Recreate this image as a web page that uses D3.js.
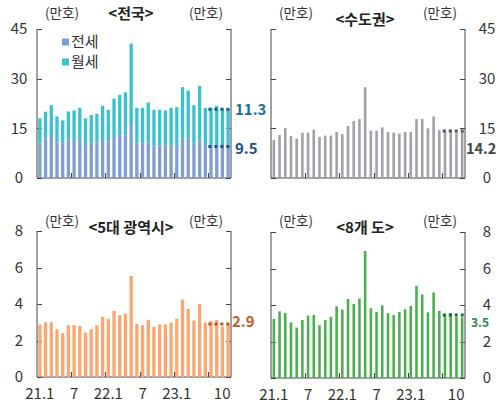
<!DOCTYPE html>
<html>
<head>
<meta charset="utf-8">
<style>
body { margin: 0; background: #fff; }
svg { display: block; font-family: "Noto Sans CJK KR", "Noto Sans", sans-serif; }
.frame { fill: none; stroke: #444; stroke-width: 1px; }
</style>
</head>
<body>
<svg width="499" height="405"></svg>
<script src="https://cdn.jsdelivr.net/npm/d3@7"></script>
<script>
// months 21.1 ~ 23.10
var months = [];
[21, 22, 23].forEach(function(y){
  for (var m = 1; m <= 12; m++) {
    if (y == 23 && m > 10) break;
    months.push(y + "." + m);
  }
});
var xLabels = {"21.1": "21.1", "21.7": "7", "22.1": "22.1", "22.7": "7", "23.1": "23.1", "23.10": "10"};
var xTicks = ["21.1", "21.7", "22.1", "22.7", "23.1", "23.7"];

// 전국 (만호)
var jeonse = [10.5, 11.7, 12.7, 10.7, 10.5, 11.7, 11.5, 11.7, 9.9, 10.5, 10.7, 11.5,
              11.1, 12.3, 12.9, 12.9, 16.3, 10.5, 10.5, 10.7, 9.5, 9.9, 9.9, 9.9,
              9.9, 12.0, 12.0, 10.3, 11.7, 9.9, 9.5, 9.9, 9.3, 9.3];
var wolse = [7.5, 8.3, 9.3, 7.9, 6.9, 8.4, 8.9, 9.5, 8.1, 8.5, 8.7, 10.3,
             9.5, 11.7, 12.2, 13.0, 24.3, 10.7, 10.7, 12.1, 11.1, 10.7, 10.5, 11.3,
             11.5, 15.4, 14.4, 11.7, 16.1, 11.3, 11.7, 11.9, 11.7, 11.5];
// 수도권
var capital = [11.5, 13.0, 15.1, 12.7, 11.9, 13.7, 13.7, 14.6, 12.4, 12.8, 12.8, 13.9,
               13.2, 15.7, 17.2, 17.8, 27.4, 14.3, 14.3, 15.3, 13.9, 13.7, 13.4, 13.9,
               13.9, 17.8, 17.8, 15.0, 18.6, 14.4, 14.3, 14.6, 13.7, 13.9];
// 5대 광역시
var metro = [2.88, 3.0, 3.0, 2.62, 2.4, 2.84, 2.84, 2.8, 2.44, 2.62, 2.84, 3.3,
             3.19, 3.62, 3.39, 3.46, 5.54, 2.91, 2.84, 3.13, 2.75, 2.88, 2.88, 2.99,
             3.19, 4.24, 3.73, 3.1, 4.0, 2.99, 3.06, 3.13, 2.77, 2.9];
// 8개 도
var province = [3.24, 3.65, 3.56, 3.05, 2.76, 3.18, 3.42, 3.45, 2.89, 3.18, 3.35, 3.93,
                3.75, 4.33, 4.05, 4.35, 6.96, 3.82, 3.62, 3.98, 3.55, 3.45, 3.62, 3.76,
                3.95, 5.04, 4.58, 3.6, 4.69, 3.67, 3.5, 3.56, 3.35, 3.33];

var svg = d3.select("svg");

var panels = [
  {title: "<전국>", x0: 37, x1: 231, y0: 29, y1: 178, max: 45, ticks: [0, 15, 30, 45], side: "left", pad: 0.42, xAxis: false, ty: -15, uy: -16},
  {title: "<수도권>", x0: 271, x1: 465, y0: 29, y1: 178, max: 45, ticks: [0, 15, 30, 45], side: "right", pad: 0.55, xAxis: false, ty: -9, uy: -16},
  {title: "<5대 광역시>", x0: 37, x1: 231, y0: 231, y1: 377, max: 8, ticks: [0, 2, 4, 6, 8], side: "left", pad: 0.42, xAxis: true, ty: -3, uy: -10},
  {title: "<8개 도>", x0: 271, x1: 465, y0: 232, y1: 378, max: 8, ticks: [0, 2, 4, 6, 8], side: "right", pad: 0.55, xAxis: true, ty: -4, uy: -11}
];

function drawFrame(p) {
  var g = svg.append("g");
  p.x = d3.scaleBand().domain(months).range([p.x0, p.x1]).paddingInner(p.pad).paddingOuter(p.pad / 2);
  p.y = d3.scaleLinear().domain([0, p.max]).range([p.y1, p.y0]);
  p.g = g;

  // frame lines
  g.append("path").attr("class", "frame")
    .attr("d", "M" + p.x0 + "," + p.y0 + "V" + p.y1 + "H" + p.x1 + "V" + p.y0);

  // inward ticks on both vertical axes
  p.ticks.forEach(function(t){
    var yy = Math.round(p.y(t)) + 0.5;
    g.append("line").attr("class", "frame").attr("x1", p.x0).attr("x2", p.x0 + 5).attr("y1", yy).attr("y2", yy);
    g.append("line").attr("class", "frame").attr("x1", p.x1 - 5).attr("x2", p.x1).attr("y1", yy).attr("y2", yy);
    g.append("text")
      .attr("x", p.side == "left" ? p.x0 - 18 : p.x1 + 22)
      .attr("y", p.y(t))
      .attr("dy", "0.36em")
      .attr("text-anchor", "middle")
      .attr("font-size", 15)
      .attr("fill", "#333")
      .text(t);
  });

  // bottom ticks every 6 months
  xTicks.forEach(function(m){
    var xx = Math.round(p.x(m) - p.x.step() * p.pad / 2) + 0.5;
    if (xx < p.x0 + 2) return;
    g.append("line").attr("class", "frame").attr("x1", xx).attr("x2", xx).attr("y1", p.y1).attr("y2", p.y1 - 5);
  });

  if (p.xAxis) {
    months.forEach(function(m){
      if (!xLabels[m]) return;
      var cx = p.x(m) + p.x.bandwidth() / 2;
      if (m == "23.10") cx -= 6;
      g.append("text")
        .attr("x", cx).attr("y", p.y1 + 17)
        .attr("dy", "0.36em")
        .attr("text-anchor", "middle")
        .attr("font-size", 15)
        .attr("fill", "#333")
        .text(xLabels[m]);
    });
  }

  // titles
  g.append("text").attr("x", p.x0 + 25).attr("y", p.y0 + p.uy).attr("dy", "0.36em")
    .attr("text-anchor", "middle").attr("font-size", 13.5).attr("fill", "#333").text("(만호)");
  g.append("text").attr("x", p.x1 - 25).attr("y", p.y0 + p.uy).attr("dy", "0.36em")
    .attr("text-anchor", "middle").attr("font-size", 13.5).attr("fill", "#333").text("(만호)");
  g.append("text").attr("x", (p.x0 + p.x1) / 2 - 3).attr("y", p.y0 + p.ty).attr("dy", "0.36em")
    .attr("text-anchor", "middle").attr("font-size", 15).attr("font-weight", "bold").attr("fill", "#222").text(p.title);
}

function avgLine(p, v, color, label, labelColor, ldx, ldy, fs) {
  var yy = p.y(v);
  p.g.append("line")
    .attr("x1", p.x(months[30]) - 1).attr("x2", p.x1)
    .attr("y1", yy).attr("y2", yy)
    .attr("stroke", color).attr("stroke-width", 3)
    .attr("stroke-dasharray", "3,3");
  p.g.append("text")
    .attr("x", p.x1 + ldx).attr("y", yy + ldy)
    .attr("dy", "0.36em")
    .attr("font-size", fs || 15).attr("font-weight", "bold")
    .attr("fill", labelColor)
    .text(label);
}

panels.forEach(drawFrame);

// 전국 stacked
var pA = panels[0];
var stackData = months.map(function(m, i){ return {m: m, jeonse: jeonse[i], wolse: wolse[i]}; });
var series = d3.stack().keys(["jeonse", "wolse"])(stackData);
var stackColor = {jeonse: "#7f9fd3", wolse: "#3bc1d0"};
pA.g.selectAll("g.series").data(series).enter().append("g")
  .attr("fill", function(d){ return stackColor[d.key]; })
  .selectAll("rect").data(function(d){ return d; }).enter().append("rect")
    .attr("x", function(d){ return pA.x(d.data.m); })
    .attr("width", pA.x.bandwidth())
    .attr("y", function(d){ return pA.y(d[1]); })
    .attr("height", function(d){ return pA.y(d[0]) - pA.y(d[1]); });

// legend
[["전세", "jeonse", 42], ["월세", "wolse", 62]].forEach(function(l){
  pA.g.append("rect").attr("x", 62).attr("y", l[2] - 3.5).attr("width", 7).attr("height", 7).attr("fill", stackColor[l[1]]);
  pA.g.append("text").attr("x", 71).attr("y", l[2]).attr("dy", "0.36em")
    .attr("font-size", 15).attr("fill", "#333").text(l[0]);
});

function simpleBars(p, values, color) {
  p.g.append("g").selectAll("rect").data(values).enter().append("rect")
    .attr("x", function(d, i){ return p.x(months[i]); })
    .attr("width", p.x.bandwidth())
    .attr("y", function(d){ return p.y(d); })
    .attr("height", function(d){ return p.y(0) - p.y(d); })
    .attr("fill", color);
}
simpleBars(panels[1], capital, "#a0a0a8");
simpleBars(panels[2], metro, "#fba772");
simpleBars(panels[3], province, "#4caf4f");

avgLine(pA, 20.8, "#1a5f82", "11.3", "#1b6f8f", 4, 0);
avgLine(pA, 9.5, "#1f4f8c", "9.5", "#1f4f8c", 4, 2);
avgLine(panels[1], 14.2, "#555", "14.2", "#444", 1, 18, 14.5);
avgLine(panels[2], 2.9, "#b45a2e", "2.9", "#c0612b", 1, -2);
avgLine(panels[3], 3.45, "#1a6b35", "3.5", "#1e8a4a", 6, 7.5, 12);
</script>
</body>
</html>
